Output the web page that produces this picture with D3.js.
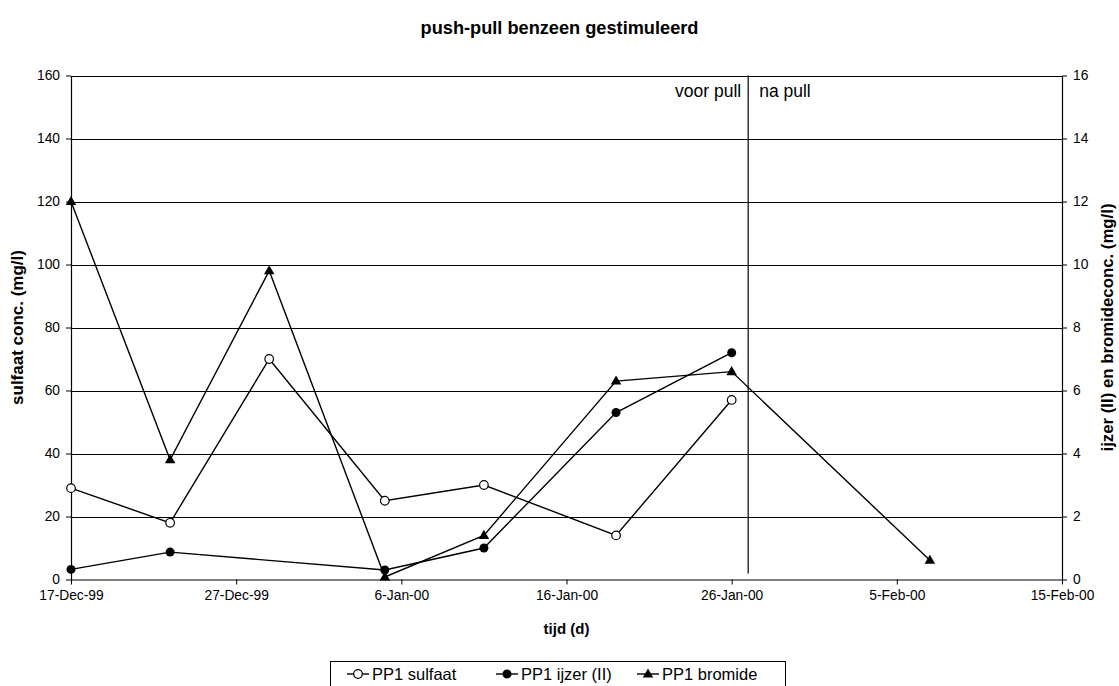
<!DOCTYPE html>
<html>
<head>
<meta charset="utf-8">
<script src="https://cdn.jsdelivr.net/npm/d3@7"></script>
<style>
  html, body { margin: 0; padding: 0; background: #fff; }
  svg { display: block; font-family: "Liberation Sans", Arial, sans-serif; }
</style>
</head>
<body>
<svg id="chart" width="1119" height="686"></svg>
<script>
// Measurement dates and values (left axis: sulfaat, right axis: ijzer & bromide)
const sulfaatDates = ["1999-12-17", "1999-12-23", "1999-12-29", "2000-01-05", "2000-01-11", "2000-01-19", "2000-01-26"];
const sulfaat = [29, 18, 70, 25, 30, 14, 57];

const ijzerDates = ["1999-12-17", "1999-12-23", "2000-01-05", "2000-01-11", "2000-01-19", "2000-01-26"];
const ijzer = [0.32, 0.87, 0.3, 1.0, 5.3, 7.2];

const bromideDates = ["1999-12-17", "1999-12-23", "1999-12-29", "2000-01-05", "2000-01-11", "2000-01-19", "2000-01-26", "2000-02-07"];
const bromide = [12.0, 3.8, 9.8, 0.08, 1.4, 6.3, 6.6, 0.61];

const xTickDates = ["1999-12-17", "1999-12-27", "2000-01-06", "2000-01-16", "2000-01-26", "2000-02-05", "2000-02-15"];
const xTickLabels = ["17-Dec-99", "27-Dec-99", "6-Jan-00", "16-Jan-00", "26-Jan-00", "5-Feb-00", "15-Feb-00"];
const leftTicks = [0, 20, 40, 60, 80, 100, 120, 140, 160];
const rightTicks = [0, 2, 4, 6, 8, 10, 12, 14, 16];

const pullDate = "2000-01-27";

const parse = d3.utcParse("%Y-%m-%d");

const svg = d3.select("#chart");
const W = 1119, H = 686;
const plot = { left: 71, right: 1062, top: 75.5, bottom: 579.5 };

const x = d3.scaleUtc()
  .domain([parse(xTickDates[0]), parse(xTickDates[xTickDates.length - 1])])
  .range([plot.left, plot.right]);
const yL = d3.scaleLinear().domain([0, 160]).range([plot.bottom, plot.top]);
const yR = d3.scaleLinear().domain([0, 16]).range([plot.bottom, plot.top]);

// Horizontal gridlines
svg.append("g")
  .selectAll("line")
  .data(leftTicks.slice(1))
  .join("line")
  .attr("x1", plot.left).attr("x2", plot.right)
  .attr("y1", d => Math.round(yL(d)) + 0.5).attr("y2", d => Math.round(yL(d)) + 0.5)
  .attr("stroke", "#000").attr("stroke-width", 1);

// Axes
const xAxis = d3.axisBottom(x)
  .tickValues(xTickDates.map(parse))
  .tickFormat((d, i) => xTickLabels[i])
  .tickSize(5).tickPadding(6).tickSizeOuter(0);
const gx = svg.append("g").attr("transform", `translate(0,${plot.bottom})`).call(xAxis);

const gl = svg.append("g").attr("transform", `translate(${plot.left},0)`)
  .call(d3.axisLeft(yL).tickValues(leftTicks).tickSize(5).tickPadding(6).tickSizeOuter(0));
const gr = svg.append("g").attr("transform", `translate(${plot.right},0)`)
  .call(d3.axisRight(yR).tickValues(rightTicks).tickSize(5).tickPadding(6).tickSizeOuter(0));

[gx, gl, gr].forEach(g => {
  g.selectAll(".domain").attr("stroke", "#000").attr("stroke-width", 1.2);
  g.selectAll(".tick line").attr("stroke", "#000");
  g.selectAll(".tick text").attr("fill", "#000")
    .style("font-family", "'Liberation Sans', Arial, sans-serif").style("font-size", "13.8px");
});

// Vertical "pull" separator and annotations
const px = x(parse(pullDate));
svg.append("line")
  .attr("x1", px).attr("x2", px).attr("y1", plot.top).attr("y2", plot.bottom - 6)
  .attr("stroke", "#000").attr("stroke-width", 1.2);
svg.append("text").attr("x", px - 7).attr("y", plot.top + 21)
  .attr("text-anchor", "end").style("font-size", "17.5px").text("voor pull");
svg.append("text").attr("x", px + 11).attr("y", plot.top + 21)
  .attr("text-anchor", "start").style("font-size", "17.5px").text("na pull");

// Series
const series = [
  { name: "PP1 sulfaat", dates: sulfaatDates, values: sulfaat, y: yL, marker: "open" },
  { name: "PP1 ijzer (II)", dates: ijzerDates, values: ijzer, y: yR, marker: "dot" },
  { name: "PP1 bromide", dates: bromideDates, values: bromide, y: yR, marker: "tri" }
];

const triPath = d3.symbol().type(d3.symbolTriangle).size(48);

function drawMarker(g, kind, cx, cy) {
  if (kind === "open") {
    g.append("circle").attr("cx", cx).attr("cy", cy).attr("r", 4.3)
      .attr("fill", "#fff").attr("stroke", "#000").attr("stroke-width", 1.2);
  } else if (kind === "dot") {
    g.append("circle").attr("cx", cx).attr("cy", cy).attr("r", 4.5).attr("fill", "#000");
  } else {
    g.append("path").attr("d", triPath()).attr("transform", `translate(${cx},${cy + 0.5})`)
      .attr("fill", "#000");
  }
}

series.forEach(s => {
  const pts = s.dates.map((d, i) => [x(parse(d)), s.y(s.values[i])]);
  const g = svg.append("g");
  g.append("path").attr("d", d3.line()(pts))
    .attr("fill", "none").attr("stroke", "#000").attr("stroke-width", 1.4);
  pts.forEach(p => drawMarker(g, s.marker, p[0], p[1]));
});

// Titles
svg.append("text").attr("x", W / 2).attr("y", 34).attr("text-anchor", "middle")
  .style("font-size", "18.2px").style("font-weight", "bold").text("push-pull benzeen gestimuleerd");
svg.append("text").attr("x", (plot.left + plot.right) / 2).attr("y", 634).attr("text-anchor", "middle")
  .style("font-size", "15px").style("font-weight", "bold").text("tijd (d)");
svg.append("text").attr("transform", `translate(23,${(plot.top + plot.bottom) / 2}) rotate(-90)`)
  .attr("text-anchor", "middle").style("font-size", "17px").style("font-weight", "bold")
  .text("sulfaat conc. (mg/l)");
svg.append("text").attr("transform", `translate(1113,${(plot.top + plot.bottom) / 2}) rotate(-90)`)
  .attr("text-anchor", "middle").style("font-size", "16.8px").style("font-weight", "bold")
  .text("ijzer (II) en bromideconc. (mg/l)");

// Legend
const legend = svg.append("g");
legend.append("rect").attr("x", 330.5).attr("y", 661.5).attr("width", 455).attr("height", 30)
  .attr("fill", "#fff").attr("stroke", "#000").attr("stroke-width", 1);
const legendX = [347, 496, 637];
series.forEach((s, i) => {
  const lx = legendX[i], ly = 674;
  legend.append("line").attr("x1", lx).attr("x2", lx + 22).attr("y1", ly).attr("y2", ly)
    .attr("stroke", "#000").attr("stroke-width", 1.4);
  drawMarker(legend, s.marker, lx + 11, ly);
  legend.append("text").attr("x", lx + 25).attr("y", ly + 6)
    .style("font-size", "16.5px").text(s.name);
});
</script>
</body>
</html>
